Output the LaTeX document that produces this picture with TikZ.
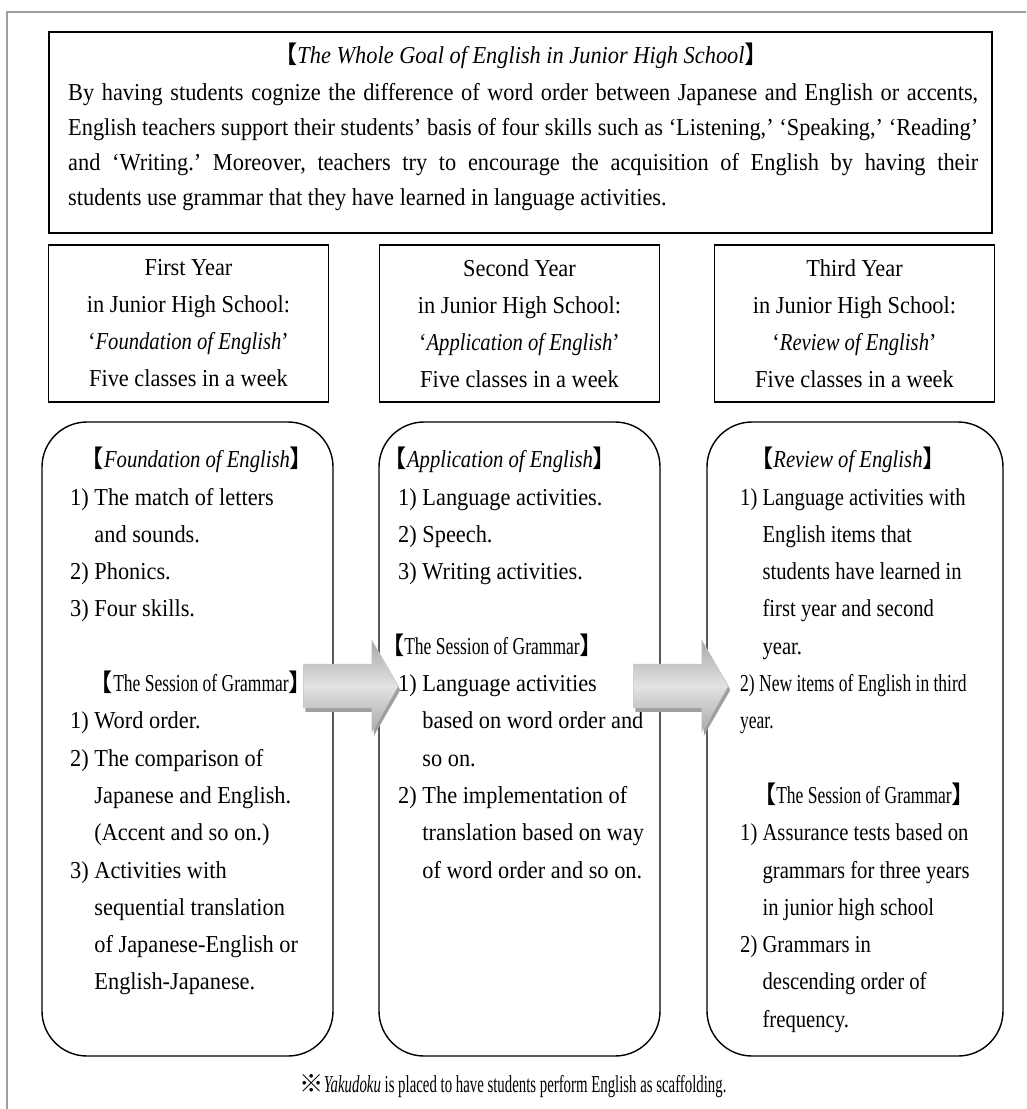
\documentclass[tikz,border=0pt]{standalone}
\usepackage{fontspec}
\setmainfont{Liberation Serif}[FakeStretch=0.92]
\newfontfamily\semifont{Liberation Serif}[FakeStretch=0.85, NFSSFamily=libsemi]
\newfontfamily\condfont{Liberation Serif}[FakeStretch=0.72, NFSSFamily=libcond]
\newfontfamily\notefont{Liberation Serif}[FakeStretch=0.61, NFSSFamily=libnote]
\newfontfamily\cjk{Noto Sans CJK JP}
\usetikzlibrary{positioning}
\usetikzlibrary{shapes.arrows}
\usetikzlibrary{shadows}
\newcommand{\lbr}{{\cjk 【}}
\newcommand{\rbr}{{\cjk 】}}
\newcommand{\cont}{\phantom{1)}~}
\newcommand{\slant}[1]{{\semifont\itshape #1}}
\newcommand{\bodyfont}{\fontsize{24.3}{37.3}\selectfont}
\tikzset{frameline/.style = {gray!75, line width=1.2pt}}
\tikzset{squarebox/.style = {draw, line width=1.4pt, inner sep=0}}
\tikzset{roundbox/.style = {squarebox, rounded corners=45pt, minimum height=634pt}}
\tikzset{yearbox/.style = {squarebox, minimum width=280pt, minimum height=157pt, align=center, font=\fontsize{24.3}{37}\selectfont}}
\tikzset{listtxt/.style = {inner sep=0, anchor=base west, text width=266pt, align=flush left, font=\bodyfont}}
\tikzset{headtxt/.style = {inner sep=0, anchor=base, font=\bodyfont}}
\tikzset{blockarrow/.style = {single arrow, anchor=tail, minimum width=91pt, minimum height=95pt,
    inner xsep=0, inner ysep=21.5pt, single arrow head extend=24pt, single arrow tip angle=120,
    draw=gray!45, line width=0.6pt, top color=gray!68, bottom color=gray!68, middle color=gray!22,
    drop shadow={shadow xshift=2pt, shadow yshift=-4pt, fill=gray!75, opacity=1}}}

\begin{document}
\frenchspacing
\begin{tikzpicture}[x=1pt, y=-1pt]
  \useasboundingbox (0,0) rectangle (1026,1109);
  \draw[frameline] (1026,12) -- (7,12) -- (7,1109);

  % whole goal
  \node[squarebox, minimum width=943pt, minimum height=201pt] (goal) at (520.5,132.5) {};
  \node[headtxt] (goaltitle) at (521,63) {\lbr\textit{The Whole Goal of English in Junior High School}\rbr};
  \node[listtxt, text width=910pt, align=justify, font=\fontsize{24.3}{35.3}\selectfont] (goalbody) at (68,100)
    {By having students cognize the difference of word order between Japanese and English or accents,\linebreak
     English teachers support their students’ basis of four skills such as ‘Listening,’ ‘Speaking,’ ‘Reading’\linebreak
     and ‘Writing.’ Moreover, teachers try to encourage the acquisition of English by having their\linebreak
     students use grammar that they have learned in language activities.};

  % years
  \node[yearbox] (year1) at (188.5,323.5) {First Year\\in Junior High School:\\‘\slant{Foundation of English}’\\Five classes in a week};
  \node[yearbox] (year2) at (519.5,323.5) {Second Year\\in Junior High School:\\‘\slant{Application of English}’\\Five classes in a week};
  \node[yearbox] (year3) at (854.5,323.5) {Third Year\\in Junior High School:\\‘\slant{Review of English}’\\Five classes in a week};

  % contents
  \node[roundbox, minimum width=291pt] (box1) at (187.5,739) {};
  \node[roundbox, minimum width=281pt] (box2) at (519.5,739) {};
  \node[roundbox, minimum width=296pt] (box3) at (855,739) {};

  \node[headtxt] (head1) at (197,467) {\lbr\slant{Foundation of English}\rbr};
  \node[listtxt] (list1a) at (70,505) {1) The match of letters\\\cont and sounds.\\2) Phonics.\\3) Four skills.};
  \node[headtxt] (gram1) at (201,691.5) {\lbr{\condfont The Session of Grammar}\rbr};
  \node[listtxt] (list1b) at (70,728.8) {1) Word order.\\2) The comparison of\\\cont Japanese and English.\\\cont (Accent and so on.)\\3) Activities with\\\cont sequential translation\\\cont of Japanese-English or\\\cont English-Japanese.};

  \node[headtxt] (head2) at (500,467) {\lbr\slant{Application of English}\rbr};
  \node[listtxt] (list2a) at (398,505) {1) Language activities.\\2) Speech.\\3) Writing activities.};
  \node[headtxt] (gram2) at (492,654.2) {\lbr{\condfont The Session of Grammar}\rbr};
  \node[listtxt] (list2b) at (398,691.5) {1) Language activities\\\cont based on word order and\\\cont so on.\\2) The implementation of\\\cont translation based on way\\\cont of word order and so on.};

  \node[headtxt] (head3) at (848,467) {\lbr\slant{Review of English}\rbr};
  \node[listtxt, font=\bodyfont\semifont] (list3a) at (740,505) {1) Language activities with\\\cont English items that\\\cont students have learned in\\\cont first year and second\\\cont year.\\{\condfont 2) New items of English in third}\\{\condfont year.}};
  \node[headtxt] (gram3) at (864,803.4) {\lbr{\condfont The Session of Grammar}\rbr};
  \node[listtxt, font=\bodyfont\semifont] (list3b) at (740,840.7) {1) Assurance tests based on\\\cont grammars for three years\\\cont in junior high school\\2) Grammars in\\\cont descending order of\\\cont frequency.};

  % arrows between years
  \node[blockarrow] (arr1) at (303,686) {};
  \node[blockarrow] (arr2) at (633,686) {};

  \node[headtxt] (note) at (513,1092) {\notefont{\cjk ※}\textit{Yakudoku} is placed to have students perform English as scaffolding.};
\end{tikzpicture}
\end{document}
